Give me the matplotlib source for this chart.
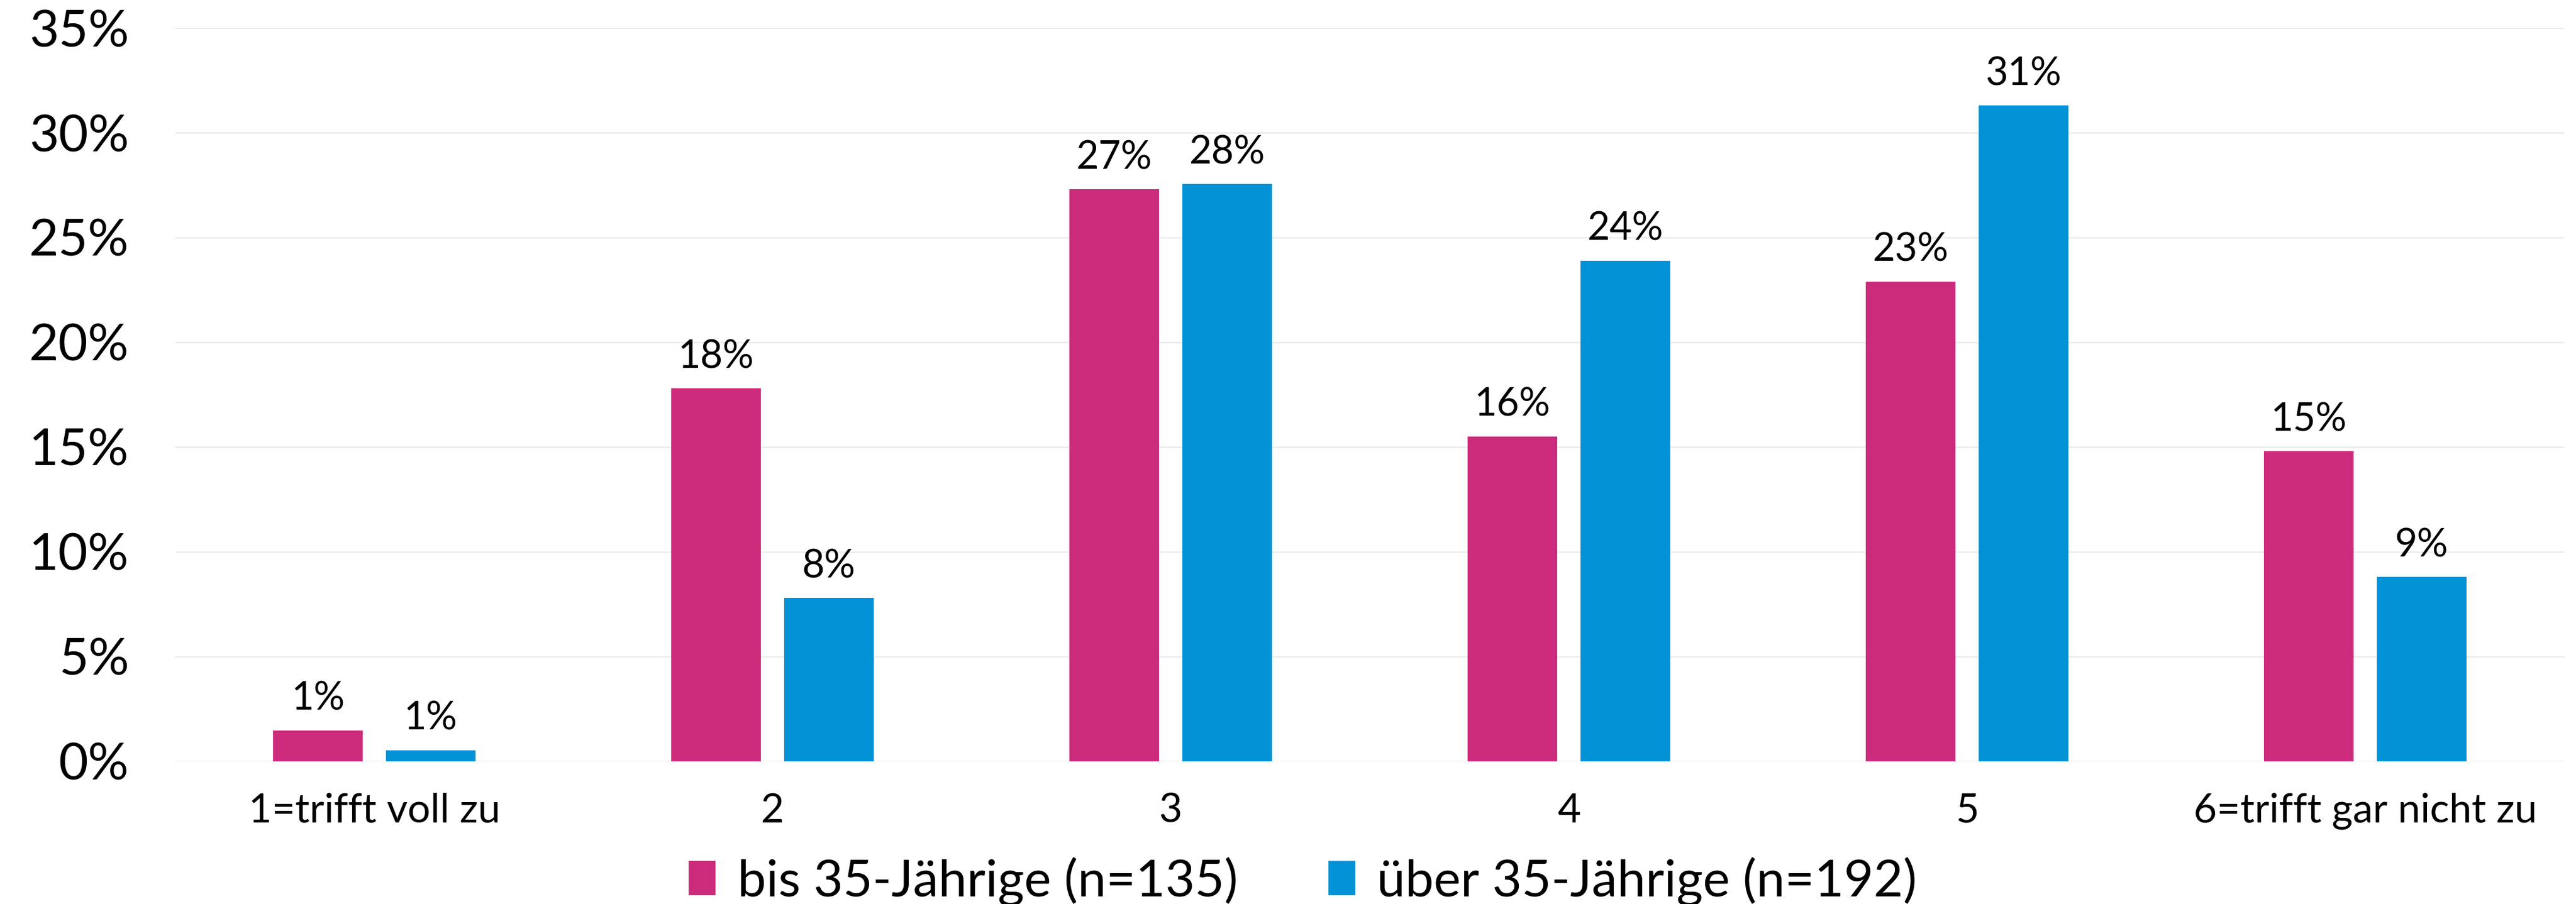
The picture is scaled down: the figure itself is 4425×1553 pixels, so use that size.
import matplotlib
matplotlib.use('Agg')
import matplotlib.pyplot as plt
import numpy as np
from matplotlib.patches import Patch

plt.rcParams['font.family'] = ['Lato', 'DejaVu Sans']

# Survey answers, share per age group (%)
categories = ['1=trifft voll zu', '2', '3', '4', '5', '6=trifft gar nicht zu']
young = [1.47, 17.8, 27.3, 15.5, 22.9, 14.8]
old = [0.53, 7.8, 27.55, 23.9, 31.3, 8.8]
young_labels = ['1%', '18%', '27%', '16%', '23%', '15%']
old_labels = ['1%', '8%', '28%', '24%', '31%', '9%']
series_names = ['bis 35-Jährige (n=135)', 'über 35-Jährige (n=192)']
yticks = [0, 5, 10, 15, 20, 25, 30, 35]

pink = '#CC2B7B'
blue = '#0292D6'
grid_col = '#EBEBEB'

fig = plt.figure(figsize=(14.75, 5.1767), dpi=300)
ax = fig.add_axes([0.068, 0.158, 0.9275, 0.811])

x = np.arange(len(categories))
w = 0.225
off = 0.1415

b1 = ax.bar(x - off, young, w, color=pink, zorder=3)
b2 = ax.bar(x + off, old, w, color=blue, zorder=3)

for bars, labs in ((b1, young_labels), (b2, old_labels)):
    for b, lab in zip(bars, labs):
        ax.annotate(lab, (b.get_x() + b.get_width() / 2, b.get_height()),
                    xytext=(0, 5.5), textcoords='offset points',
                    ha='center', va='bottom', fontsize=16)

ax.set_xlim(-0.5, len(categories) - 0.5)
ax.set_ylim(0, 35)
ax.set_yticks(yticks)
ax.set_yticklabels([f'{t}%' for t in yticks], fontsize=21)
ax.set_xticks(x)
ax.set_xticklabels(categories, fontsize=16.6)
ax.tick_params(axis='both', length=0)
ax.tick_params(axis='y', pad=19)
ax.tick_params(axis='x', pad=13)
ax.yaxis.grid(True, color=grid_col, linewidth=0.6, zorder=0)
for s in ax.spines.values():
    s.set_visible(False)

handles = [Patch(color=pink), Patch(color=blue)]
fig.legend(handles, series_names, loc='center', bbox_to_anchor=(0.506, 0.025),
           ncol=2, frameon=False, fontsize=21, handlelength=0.48,
           handleheight=0.6, handletextpad=0.45, columnspacing=1.8)

fig.savefig('out.png', dpi=300)
